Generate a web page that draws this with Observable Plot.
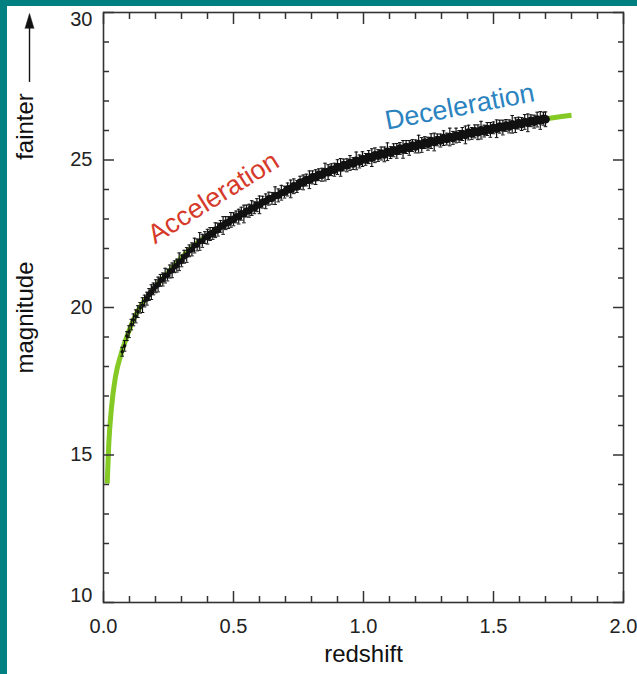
<!DOCTYPE html>
<html><head><meta charset="utf-8">
<script src="https://cdn.jsdelivr.net/npm/d3@7"></script>
<script src="https://cdn.jsdelivr.net/npm/@observablehq/plot@0.6"></script>
<style>
html,body{margin:0;padding:0;background:#008080;width:637px;height:674px;overflow:hidden}
#chart{position:absolute;left:7px;top:6px;width:630px;height:668px;background:#fff;overflow:hidden}
</style></head><body><div id="chart"></div>
<script>
// Model curve (green)
const curveZ   = [0.0142, 0.0204, 0.0308, 0.0462, 0.0673, 0.0885, 0.127, 0.178, 0.245, 0.335, 0.46, 0.60, 0.75, 0.90, 1.06, 1.23, 1.41, 1.53, 1.68, 1.80];
const curveMag = [14.03, 15.39, 16.61, 17.66, 18.41, 18.98, 19.80, 20.47, 21.15, 22.00, 22.80, 23.50, 24.18, 24.75, 25.18, 25.56, 25.93, 26.12, 26.37, 26.52];

const snZ = [0.072,0.081,0.090,0.098,0.107,0.115,0.124,0.132,0.141,0.150,0.158,0.167,0.175,0.184,0.192,0.201,0.210,0.219,0.228,0.237,0.246,0.255,0.264,0.273,0.282,0.291,0.300,0.310,0.320,0.330,0.340,0.350,0.360,0.370,0.380,0.390,0.400,0.410,0.420,0.430,0.440,0.450,0.460,0.470,0.480,0.490,0.500,0.510,0.520,0.530,0.540,0.550,0.560,0.570,0.580,0.590,0.600,0.612,0.624,0.636,0.648,0.660,0.672,0.684,0.696,0.708,0.720,0.732,0.744,0.756,0.768,0.780,0.792,0.804,0.816,0.828,0.840,0.852,0.864,0.876,0.888,0.900,0.912,0.924,0.936,0.948,0.960,0.972,0.984,0.996,1.008,1.020,1.032,1.044,1.056,1.068,1.080,1.092,1.104,1.116,1.128,1.140,1.152,1.164,1.176,1.188,1.200,1.212,1.224,1.236,1.248,1.260,1.272,1.284,1.296,1.308,1.320,1.332,1.344,1.356,1.368,1.380,1.392,1.404,1.416,1.428,1.440,1.452,1.464,1.476,1.488,1.500,1.512,1.524,1.536,1.548,1.560,1.572,1.584,1.596,1.608,1.620,1.632,1.644,1.656,1.668,1.680,1.692,1.700];
const snMag = [18.50,18.70,19.03,19.18,19.42,19.58,19.70,19.86,19.99,20.08,20.22,20.30,20.44,20.52,20.63,20.72,20.78,20.92,20.95,21.08,21.10,21.22,21.26,21.38,21.42,21.55,21.58,21.72,21.78,21.92,21.97,22.10,22.12,22.24,22.26,22.37,22.40,22.49,22.51,22.62,22.64,22.75,22.78,22.86,22.88,22.97,22.99,23.07,23.08,23.18,23.17,23.27,23.28,23.37,23.38,23.47,23.48,23.57,23.60,23.69,23.70,23.79,23.80,23.89,23.91,24.00,24.02,24.11,24.10,24.23,24.24,24.32,24.33,24.41,24.42,24.50,24.50,24.59,24.59,24.67,24.67,24.76,24.75,24.83,24.82,24.90,24.88,24.97,24.95,25.03,25.02,25.10,25.08,25.16,25.15,25.22,25.19,25.28,25.25,25.33,25.31,25.39,25.36,25.44,25.41,25.49,25.46,25.54,25.51,25.59,25.55,25.64,25.61,25.68,25.66,25.74,25.71,25.78,25.75,25.83,25.80,25.88,25.85,25.93,25.90,25.97,25.94,26.01,25.98,26.05,26.02,26.09,26.06,26.13,26.10,26.17,26.14,26.21,26.18,26.25,26.22,26.29,26.26,26.33,26.30,26.37,26.34,26.40,26.38];
const snErr = [0.15,0.18,0.15,0.20,0.18,0.20,0.22,0.20,0.18,0.25,0.20,0.22,0.20,0.25,0.20,0.22,0.25,0.20,0.22,0.25,0.20,0.22,0.25,0.20,0.22,0.30,0.20,0.22,0.25,0.20,0.22,0.25,0.20,0.30,0.22,0.20,0.25,0.22,0.20,0.25,0.22,0.20,0.30,0.22,0.20,0.25,0.22,0.20,0.25,0.22,0.30,0.20,0.22,0.25,0.20,0.22,0.30,0.20,0.25,0.22,0.20,0.30,0.22,0.25,0.20,0.22,0.30,0.25,0.20,0.22,0.25,0.20,0.30,0.22,0.25,0.20,0.22,0.30,0.25,0.20,0.22,0.25,0.30,0.20,0.22,0.25,0.20,0.30,0.22,0.25,0.20,0.22,0.30,0.25,0.20,0.22,0.25,0.30,0.20,0.22,0.25,0.20,0.30,0.22,0.25,0.20,0.22,0.30,0.25,0.20,0.22,0.25,0.30,0.20,0.22,0.25,0.20,0.30,0.22,0.25,0.20,0.22,0.30,0.25,0.20,0.22,0.25,0.30,0.20,0.22,0.25,0.20,0.30,0.22,0.25,0.20,0.22,0.30,0.25,0.20,0.22,0.25,0.30,0.20,0.22,0.25,0.30,0.22,0.25];

// Axes
const xMajorTicks = [0, 0.5, 1.0, 1.5, 2.0];
const xMinorTicks = [0.1,0.2,0.3,0.4,0.6,0.7,0.8,0.9,1.1,1.2,1.3,1.4,1.6,1.7,1.8,1.9];
const yMajorTicks = [10, 15, 20, 25, 30];
const yMinorTicks = [11,12,13,14,16,17,18,19,21,22,23,24,26,27,28,29];
const xTitle = "redshift";
const yTitle = "magnitude";
const arrowTitle = "fainter";

// Annotations
const annoText  = ["Acceleration", "Deceleration"];
const annoZ     = [0.423, 1.370];
const annoMag   = [23.72, 26.80];
const annoAngle = [-32, -11];
const arrowZ = [-0.2846];
const arrowFrom = [27.63];
const arrowTo = [29.46];

const curve = curveZ.map((z, i) => ({z, mag: curveMag[i]}));
const sn = snZ.map((z, i) => ({z, mag: snMag[i], err: snErr[i]}));
const annos = annoText.map((t, i) => ({t, z: annoZ[i], mag: annoMag[i], a: annoAngle[i]}));
const arrow = arrowZ.map((z, i) => ({z, from: arrowFrom[i], to: arrowTo[i]}));

const axisColor = "#333";
const ink = "#111";
const tickOpts = {tickFormat: () => "", label: null, stroke: axisColor, strokeWidth: 1.5};
const labelOpts = {tickSize: 0, label: null, fontSize: 20, fill: "#222"};
const plot = Plot.plot({
  width: 630, height: 668,
  marginLeft: 96, marginRight: 14, marginTop: 6, marginBottom: 72,
  x: {domain: [0, 2], axis: null, label: null},
  y: {domain: [10, 30], axis: null, label: null},
  style: {fontFamily: "'Liberation Sans', Arial, sans-serif", background: "transparent", overflow: "visible", color: "#222"},
  marks: [
    Plot.line(curve, {x: "z", y: "mag", stroke: "#84c924", strokeWidth: 5, curve: "monotone-x", strokeLinecap: "butt"}),
    // error bars with caps
    Plot.ruleX(sn, {x: "z", y1: d => d.mag - d.err, y2: d => d.mag + d.err, stroke: ink, strokeWidth: 1.2}),
    Plot.link(sn, {x1: d => d.z - 0.007, x2: d => d.z + 0.007, y1: d => d.mag + d.err, y2: d => d.mag + d.err, stroke: ink, strokeWidth: 1}),
    Plot.link(sn, {x1: d => d.z - 0.007, x2: d => d.z + 0.007, y1: d => d.mag - d.err, y2: d => d.mag - d.err, stroke: ink, strokeWidth: 1}),
    Plot.dot(sn.filter(d => d.z < 0.16), {x: "z", y: "mag", r: 1.8, fill: ink}),
    Plot.dot(sn.filter(d => d.z >= 0.16 && d.z < 0.4), {x: "z", y: "mag", r: 2.8, fill: ink}),
    Plot.dot(sn.filter(d => d.z >= 0.4 && d.z < 0.7), {x: "z", y: "mag", r: 3.6, fill: ink}),
    Plot.dot(sn.filter(d => d.z >= 0.7), {x: "z", y: "mag", r: 4.3, fill: ink}),
    Plot.frame({stroke: axisColor, strokeWidth: 1.6}),
    // inward ticks, all four sides
    Plot.axisX({anchor: "bottom", ticks: xMajorTicks, tickSize: -11, ...tickOpts}),
    Plot.axisX({anchor: "bottom", ticks: xMinorTicks, tickSize: -6, ...tickOpts}),
    Plot.axisX({anchor: "top", ticks: xMajorTicks, tickSize: -11, ...tickOpts}),
    Plot.axisX({anchor: "top", ticks: xMinorTicks, tickSize: -6, ...tickOpts}),
    Plot.axisY({anchor: "left", ticks: yMajorTicks, tickSize: -11, ...tickOpts}),
    Plot.axisY({anchor: "left", ticks: yMinorTicks, tickSize: -6, ...tickOpts}),
    Plot.axisY({anchor: "right", ticks: yMajorTicks, tickSize: -11, ...tickOpts}),
    Plot.axisY({anchor: "right", ticks: yMinorTicks, tickSize: -6, ...tickOpts}),
    // tick labels
    Plot.axisX({anchor: "bottom", ticks: xMajorTicks, tickPadding: 16, tickFormat: d3.format(".1f"), ...labelOpts}),
    Plot.axisY({anchor: "left", ticks: yMajorTicks.filter(v => v > 10 && v < 30), tickPadding: 11, tickFormat: d3.format("d"), ...labelOpts}),
    Plot.axisY({anchor: "left", ticks: yMajorTicks.filter(v => v === 30), tickPadding: 11, dy: 7, tickFormat: d3.format("d"), ...labelOpts}),
    Plot.axisY({anchor: "left", ticks: yMajorTicks.filter(v => v === 10), tickPadding: 11, dy: -7, tickFormat: d3.format("d"), ...labelOpts}),
    // axis titles
    Plot.text([xTitle], {text: d => d, frameAnchor: "bottom", dy: 59, fontSize: 24, fill: ink}),
    Plot.text([yTitle], {text: d => d, frameAnchor: "left", textAnchor: "middle", lineAnchor: "middle", dx: -78, dy: 10, rotate: -90, fontSize: 24, fill: ink}),
    Plot.text([arrowTitle], {text: d => d, frameAnchor: "top-left", textAnchor: "middle", lineAnchor: "middle", dx: -78, dy: 114, rotate: -90, fontSize: 24, fill: ink}),
    Plot.ruleX(arrow, {x: "z", y1: "from", y2: "to", stroke: ink, strokeWidth: 1.4}),
    Plot.vector(arrow, {x: "z", y: "to", length: 15, r: 4.5, shape: "spike", anchor: "start", rotate: 0, fill: ink, stroke: ink, strokeWidth: 0.5}),
    // annotations
    Plot.text(annos.filter(d => d.t === "Acceleration"), {x: "z", y: "mag", text: "t", rotate: -32, fontSize: 27, fill: "#d63a2a"}),
    Plot.text(annos.filter(d => d.t === "Deceleration"), {x: "z", y: "mag", text: "t", rotate: -11, fontSize: 27, fill: "#2b83bf"})
  ]
});
document.getElementById("chart").appendChild(plot);
</script>
</body></html>
